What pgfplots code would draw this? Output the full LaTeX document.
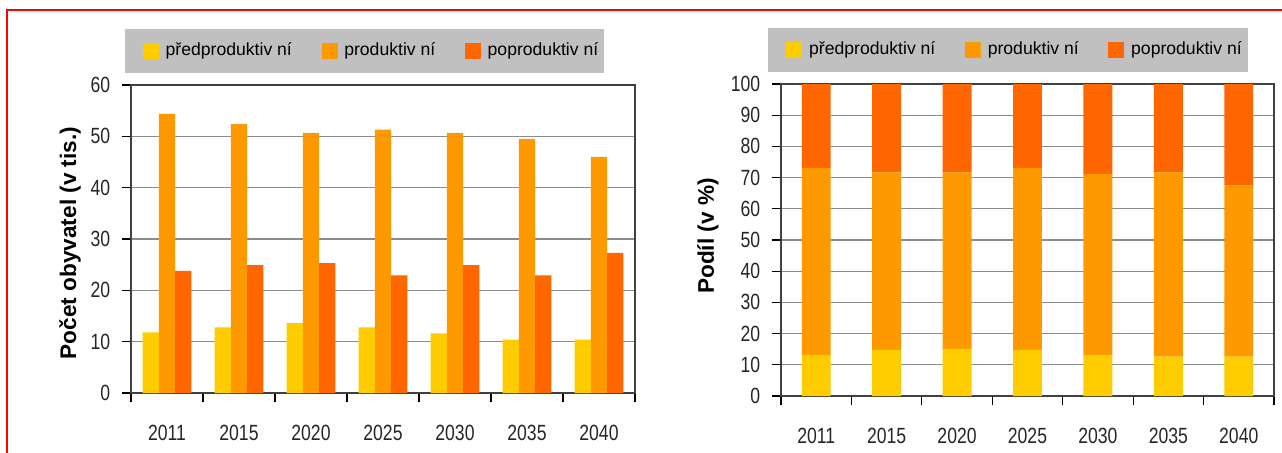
\documentclass[border=0pt]{standalone}
\usepackage{fontspec}
\setmainfont{Liberation Sans}
\newfontfamily\narrowfont{Liberation Sans}[FakeStretch=0.8]
\usepackage{pgfplots}
\pgfplotsset{compat=1.18}
\definecolor{cA}{HTML}{FFCC00}
\definecolor{cB}{HTML}{FF9900}
\definecolor{cC}{HTML}{FF6600}
\definecolor{legbg}{HTML}{C0C0C0}
\definecolor{gridc}{HTML}{8C8C8C}
\definecolor{framec}{HTML}{404040}
\pgfplotsset{
  sqlegend/.style={legend image code/.code={\path[##1, draw=none, draw opacity=0] (0pt,-4pt) rectangle (8pt,4pt);}},
  ybar legend/.style={sqlegend},
  mystyle/.style={
    scale only axis,
    xmin=-0.5, xmax=6.5,
    xtick={-0.5,0.5,...,6.5},
    x tick label as interval,
    xticklabels={2011,2015,2020,2025,2030,2035,2040},
    ymin=0,
    xtick pos=lower, ytick pos=left,
    tick align=outside,
    major tick length=4.7pt,
    ymajorgrids,
    grid style={gridc, line width=0.6pt},
    axis line style={framec, line width=0.8pt},
    tick style={black, line width=0.6pt},
    /pgf/number format/assume math mode=true,
    ticklabel style={font=\narrowfont\fontsize{11}{12}\selectfont, text=black!85},
    xticklabel style={anchor=north, inner sep=0pt, yshift=-11pt},
    yticklabel style={anchor=east, inner sep=0pt, xshift=-5.5pt},
    ylabel style={font=\bfseries\fontsize{11.3}{13}\selectfont, anchor=center},
    legend columns=3,
    legend style={fill=legbg, draw=none, at={(0,1)}, anchor=north west,
      font=\fontsize{8.8}{10}\selectfont,
      inner xsep=9pt, inner ysep=6.8pt,
      /tikz/every even column/.append style={column sep=14.8pt},
      /tikz/every odd column/.append style={column sep=3.4pt},
      nodes={inner sep=0pt, text height=6.4pt, text depth=1.9pt}},
  }
}
\begin{document}
\begin{tikzpicture}
\useasboundingbox (0,0) rectangle (641pt,226pt);
\draw[red, line width=0.8pt] (3.5pt,-2pt) -- (3.5pt,221pt) -- (645pt,221pt);
\begin{axis}[mystyle,
  at={(65.5pt,29.5pt)}, anchor=south west,
  width=252pt, height=154pt,
  ymax=60, ytick={0,10,...,60},
  ybar=0pt, bar width=0.225, sqlegend,
  ylabel={Počet obyvatel (v tis.)},
  ylabel style={at={(axis description cs:-0.121,0.487)}},
  legend style={xshift=-3.25pt, yshift=28pt},
]
\addplot[fill=cA, draw=none] coordinates {(0,11.8) (1,12.8) (2,13.6) (3,12.8) (4,11.6) (5,10.4) (6,10.4)};
\addplot[fill=cB, draw=none] coordinates {(0,54.4) (1,52.4) (2,50.7) (3,51.3) (4,50.7) (5,49.5) (6,46.0)};
\addplot[fill=cC, draw=none] coordinates {(0,23.8) (1,24.9) (2,25.3) (3,22.9) (4,24.9) (5,22.9) (6,27.3)};
\legend{předproduktiv ní, produktiv ní, poproduktiv ní\hspace*{-6pt}}
\end{axis}
\begin{axis}[mystyle,
  at={(390.5pt,28pt)}, anchor=south west,
  width=246.5pt, height=156pt,
  ymax=100, ytick={0,10,...,100},
  ybar stacked, bar width=0.41, sqlegend,
  ylabel={Podíl (v \%)},
  ylabel style={at={(axis description cs:-0.148,0.513)}},
  legend style={xshift=-6.5pt, yshift=28.2pt},
]
\addplot[fill=cA, draw=none, sqlegend] coordinates {(0,13.2) (1,14.8) (2,15.1) (3,14.8) (4,13.2) (5,12.6) (6,12.6)};
\addplot[fill=cB, draw=none, sqlegend] coordinates {(0,59.9) (1,56.9) (2,56.6) (3,58.3) (4,57.9) (5,59.1) (6,54.8)};
\addplot[fill=cC, draw=none, sqlegend] coordinates {(0,26.9) (1,28.3) (2,28.3) (3,26.9) (4,28.9) (5,28.3) (6,32.6)};
\legend{předproduktiv ní, produktiv ní, poproduktiv ní\hspace*{-6pt}}
\end{axis}
\end{tikzpicture}
\end{document}
